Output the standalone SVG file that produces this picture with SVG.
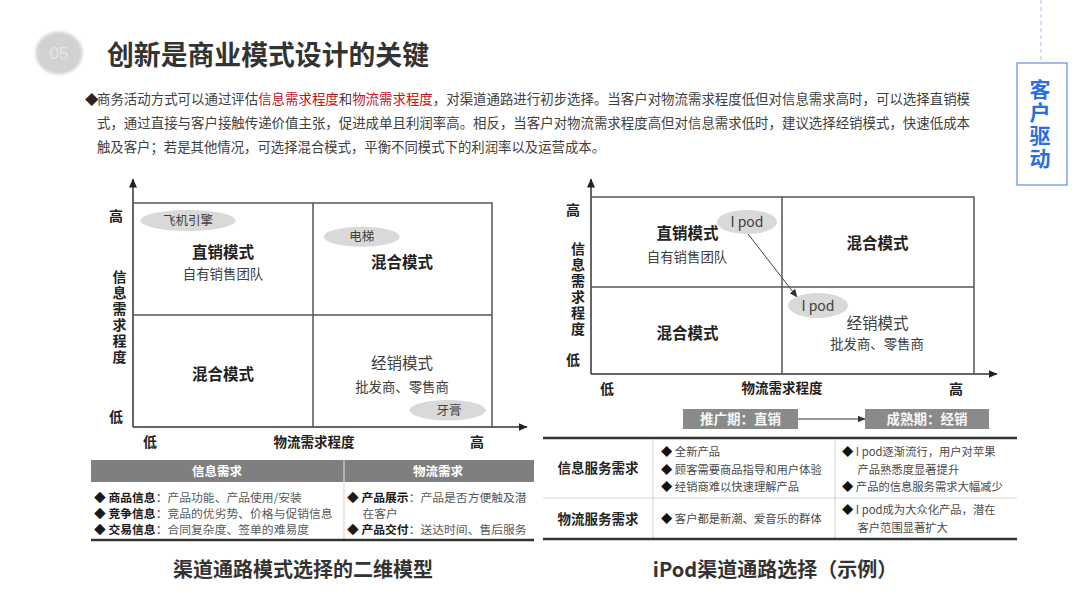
<svg xmlns="http://www.w3.org/2000/svg" width="1080" height="608" viewBox="0 0 1080 608">
<defs>
<marker id="ah" markerUnits="userSpaceOnUse" markerWidth="9" markerHeight="8" refX="8.5" refY="4" orient="auto">
<path d="M0,0 L9,4 L0,8 z" fill="#222"/>
</marker>
<marker id="ahs" markerUnits="userSpaceOnUse" markerWidth="8" markerHeight="7" refX="7.5" refY="3.5" orient="auto">
<path d="M0,0 L8,3.5 L0,7 z" fill="#333"/>
</marker>
<filter id="blur" x="-30%" y="-30%" width="160%" height="160%"><feGaussianBlur stdDeviation="1.6"/></filter>
<style>
text{font-family:"Noto Sans CJK SC","Liberation Sans",sans-serif;}
.title{font-size:27.5px;font-weight:bold;fill:#333;}
.para{font-size:13.4px;fill:#404040;}
.red{fill:#c0141c;}
.axis{stroke:#333;stroke-width:1.5;fill:none;}
.grid{stroke:#555;stroke-width:1.5;fill:none;}
.big{font-size:15.5px;font-weight:bold;fill:#222;text-anchor:middle;}
.bign{font-size:15.5px;fill:#404040;text-anchor:middle;}
.sub{font-size:13.4px;fill:#404040;text-anchor:middle;}
.ax{font-size:14px;font-weight:bold;fill:#222;text-anchor:middle;}
.vax{font-size:14px;font-weight:bold;fill:#222;writing-mode:vertical-rl;letter-spacing:2px;}
.ell{fill:#d9d9d9;}
.elt{font-size:12.5px;fill:#404040;text-anchor:middle;}
.ipod{font-size:14px;fill:#404040;text-anchor:middle;}
.hdr{font-size:12.5px;font-weight:bold;fill:#fff;text-anchor:middle;}
.tb{font-size:11.8px;fill:#595959;}
.tbb{font-weight:bold;fill:#1a1a1a;}
.rt{font-size:11.3px;fill:#4a4a4a;}
.rlab{font-size:13.5px;font-weight:bold;fill:#262626;text-anchor:middle;}
.cap{font-size:20px;font-weight:bold;fill:#333;text-anchor:middle;}
.stage{fill:#8a8a8a;}
.stt{font-size:13.5px;font-weight:bold;fill:#f7f7f7;text-anchor:middle;}
.thick{stroke:#333;stroke-width:2.5;}
.thin{stroke:#d4d4d4;stroke-width:1;}
.blue{font-size:21px;font-weight:bold;fill:#2a6fdf;writing-mode:vertical-rl;letter-spacing:1.8px;}
</style>
</defs>
<rect width="1080" height="608" fill="#fff"/>

<g id="header">
<ellipse cx="59" cy="53" rx="23.5" ry="21.5" fill="#d2d2d2" filter="url(#blur)"/>
<text x="59" y="59" font-size="17" fill="#e4e4e4" text-anchor="middle" style="font-family:'Liberation Sans',sans-serif">05</text>
<text class="title" x="107" y="64.5" textLength="322" lengthAdjust="spacingAndGlyphs">创新是商业模式设计的关键</text>
</g>

<g id="paragraph">
<text class="para" x="85" y="103.5" style="fill:#262626">◆</text>
<text class="para" x="97" y="103.5" textLength="873" lengthAdjust="spacingAndGlyphs">商务活动方式可以通过评估<tspan class="red">信息需求程度</tspan>和<tspan class="red">物流需求程度</tspan>，对渠道通路进行初步选择。当客户对物流需求程度低但对信息需求高时，可以选择直销模</text>
<text class="para" x="97" y="127.5" textLength="873" lengthAdjust="spacingAndGlyphs">式，通过直接与客户接触传递价值主张，促进成单且利润率高。相反，当客户对物流需求程度高但对信息需求低时，建议选择经销模式，快速低成本</text>
<text class="para" x="97" y="151.5" textLength="508" lengthAdjust="spacingAndGlyphs">触及客户；若是其他情况，可选择混合模式，平衡不同模式下的利润率以及运营成本。</text>
</g>

<g id="tag">
<line x1="1041" y1="0" x2="1041" y2="63" stroke="#a8c3ee" stroke-width="1" stroke-dasharray="4 3"/>
<rect x="1017" y="63" width="50" height="122" fill="#fff" stroke="#5b8fe0" stroke-width="1.2"/>
<text class="blue" x="1040" y="79">客户驱动</text>
</g>

<g id="connectors">
<line class="axis" x1="133" y1="427" x2="133" y2="179" marker-end="url(#ah)"/>
<line class="axis" x1="133" y1="427" x2="527" y2="427" marker-end="url(#ah)"/>
<line class="axis" x1="591" y1="374" x2="591" y2="179" marker-end="url(#ah)"/>
<line class="axis" x1="591" y1="374" x2="997" y2="374" marker-end="url(#ah)"/>
<line x1="748" y1="234" x2="797" y2="297" stroke="#444" stroke-width="1" marker-end="url(#ahs)"/>
<line x1="798" y1="419" x2="865" y2="419" stroke="#333" stroke-width="1.2" marker-end="url(#ahs)"/>
</g>

<g id="left-matrix">
<path class="grid" d="M133,203 H492 V427 M313,203 V427 M133,315 H492"/>
<text class="ax" x="116" y="220.5">高</text>
<text class="ax" x="116" y="422">低</text>
<text class="vax" x="119.5" y="269.5">信息需求程度</text>
<text class="ax" x="150" y="447">低</text>
<text class="ax" x="314" y="446.5" style="font-size:13.5px">物流需求程度</text>
<text class="ax" x="477" y="447">高</text>
</g>

<g id="q-direct">
<ellipse class="ell" cx="188" cy="220.5" rx="47.5" ry="10.5"/>
<text class="elt" x="188" y="225.2">飞机引擎</text>
<text class="big" x="223" y="257.6">直销模式</text>
<text class="sub" x="223" y="279">自有销售团队</text>
</g>
<g id="q-mix-top">
<ellipse class="ell" cx="361.7" cy="236.7" rx="38" ry="10"/>
<text class="elt" x="361.7" y="241.4">电梯</text>
<text class="big" x="402" y="267.6">混合模式</text>
</g>
<g id="q-mix-bottom">
<text class="big" x="223" y="380">混合模式</text>
</g>
<g id="q-dealer">
<text class="bign" x="402" y="369.2">经销模式</text>
<text class="sub" x="402" y="391.8">批发商、零售商</text>
<ellipse class="ell" cx="447.7" cy="410.3" rx="38" ry="10.3"/>
<text class="elt" x="449" y="415">牙膏</text>
</g>

<g id="left-table">
<rect x="91" y="460" width="443" height="22" fill="#7f7f7f"/>
<line x1="344" y1="460" x2="344" y2="482" stroke="#e8e8e8" stroke-width="1"/>
<line class="thin" x1="344" y1="482" x2="344" y2="539"/>
<text class="hdr" x="217" y="475.7">信息需求</text>
<text class="hdr" x="438" y="475.7">物流需求</text>
<text class="tb" x="94" y="501.6"><tspan class="tbb">◆ 商品信息</tspan>：产品功能、产品使用/安装</text>
<text class="tb" x="94" y="517.8"><tspan class="tbb">◆ 竞争信息</tspan>：竞品的优劣势、价格与促销信息</text>
<text class="tb" x="94" y="534.4"><tspan class="tbb">◆ 交易信息</tspan>：合同复杂度、签单的难易度</text>
<text class="tb" x="347" y="501.6"><tspan class="tbb">◆ 产品展示</tspan>：产品是否方便触及潜</text>
<text class="tb" x="362.5" y="517.8">在客户</text>
<text class="tb" x="347" y="534.4"><tspan class="tbb">◆ 产品交付</tspan>：送达时间、售后服务</text>
<line class="thick" x1="91" y1="540" x2="534" y2="540"/>
<text class="cap" x="303" y="577">渠道通路模式选择的二维模型</text>
</g>

<g id="right-matrix">
<path class="grid" d="M591,197 H974 V374 M782,197 V374 M591,287 H974"/>
<text class="ax" x="573" y="214.5">高</text>
<text class="ax" x="573" y="365.3">低</text>
<text class="vax" x="578" y="241.3">信息需求程度</text>
<text class="ax" x="607" y="393.6">低</text>
<text class="ax" x="782" y="393.3" style="font-size:13.5px">物流需求程度</text>
<text class="ax" x="956" y="393.6">高</text>
</g>

<g id="r-direct">
<text class="big" x="687.5" y="239">直销模式</text>
<text class="sub" x="687" y="261.8">自有销售团队</text>
</g>
<g id="r-mix-top">
<text class="big" x="877.5" y="249.2">混合模式</text>
</g>
<g id="r-mix-bottom">
<text class="big" x="687.5" y="338.6">混合模式</text>
</g>
<g id="r-dealer">
<text class="bign" x="877.5" y="328.6">经销模式</text>
<text class="sub" x="877" y="349.4">批发商、零售商</text>
</g>
<g id="ipod-1">
<ellipse class="ell" cx="747" cy="222" rx="30" ry="12"/>
<text class="ipod" x="747" y="227">I pod</text>
</g>
<g id="ipod-2">
<ellipse class="ell" cx="818" cy="305.5" rx="30" ry="12.5"/>
<text class="ipod" x="818" y="310.5">I pod</text>
</g>

<g id="stage-promo">
<rect class="stage" x="683" y="409" width="115" height="20"/>
<text class="stt" x="740.5" y="424">推广期：直销</text>
</g>
<g id="stage-mature">
<rect class="stage" x="865" y="409" width="124" height="20"/>
<text class="stt" x="927" y="424">成熟期：经销</text>
</g>

<g id="right-table">
<line class="thick" x1="543" y1="438" x2="1017" y2="438"/>
<line class="thin" x1="543" y1="498" x2="1017" y2="498"/>
<line class="thin" x1="653" y1="439" x2="653" y2="538"/>
<line class="thin" x1="835" y1="439" x2="835" y2="538"/>
<line class="thick" x1="543" y1="539" x2="1017" y2="539"/>
<text class="rlab" x="598" y="473">信息服务需求</text>
<text class="rlab" x="598" y="524">物流服务需求</text>
<text class="rt" x="661" y="456.2"><tspan fill="#111">◆</tspan> 全新产品</text>
<text class="rt" x="661" y="473.5"><tspan fill="#111">◆</tspan> 顾客需要商品指导和用户体验</text>
<text class="rt" x="661" y="491"><tspan fill="#111">◆</tspan> 经销商难以快速理解产品</text>
<text class="rt" x="661" y="523.2"><tspan fill="#111">◆</tspan> 客户都是新潮、爱音乐的群体</text>
<text class="rt" x="842" y="456.2"><tspan fill="#111">◆</tspan> I pod逐渐流行，用户对苹果</text>
<text class="rt" x="857.5" y="473.8">产品熟悉度显著提升</text>
<text class="rt" x="842" y="491"><tspan fill="#111">◆</tspan> 产品的信息服务需求大幅减少</text>
<text class="rt" x="842" y="514.2"><tspan fill="#111">◆</tspan> I pod成为大众化产品，潜在</text>
<text class="rt" x="857.5" y="532">客户范围显著扩大</text>
<text class="cap" x="775" y="577">iPod渠道通路选择（示例）</text>
</g>
</svg>
